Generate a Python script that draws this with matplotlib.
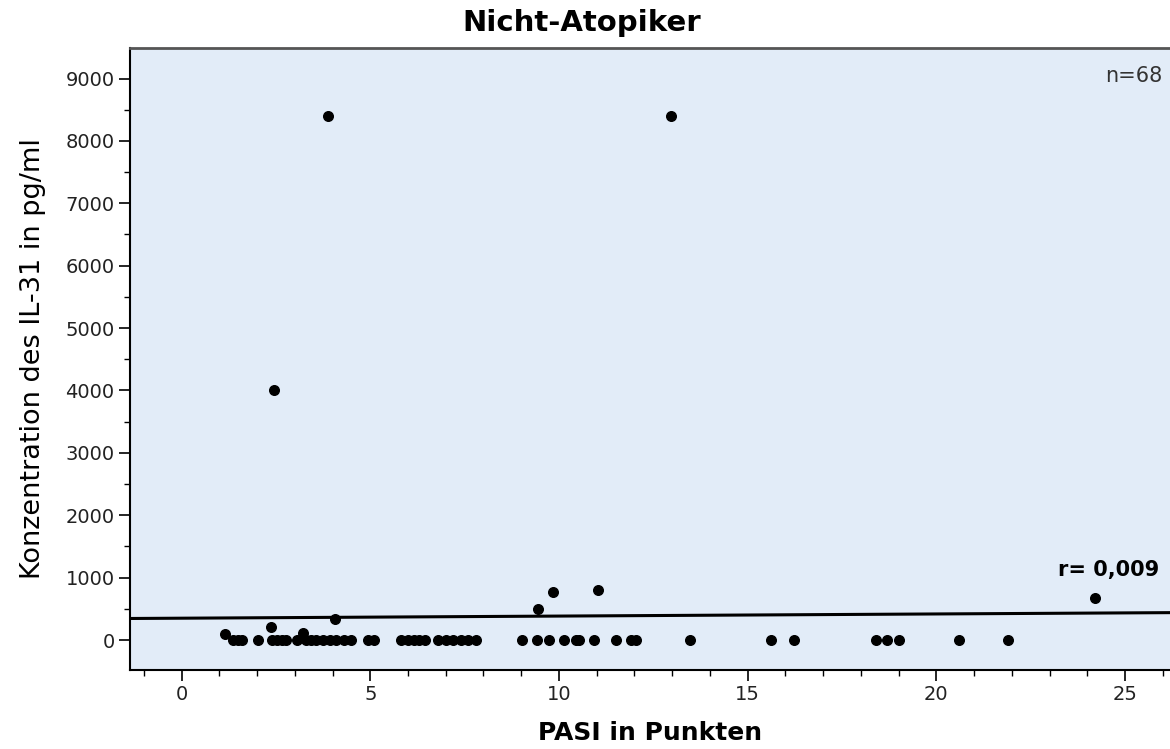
import numpy as np
import matplotlib.pyplot as plt
from matplotlib.ticker import MultipleLocator

# PASI score vs IL-31 concentration
pasi = [1.15, 1.36, 1.49, 1.6, 2.02, 2.36, 2.39, 2.44, 2.52, 2.65, 2.78, 3.05,
        3.21, 3.31, 3.44, 3.57, 3.75, 3.87, 3.92, 4.06, 4.1, 4.3, 4.5, 4.93,
        5.11, 5.82, 5.99, 6.17, 6.3, 6.44, 6.8, 7.0, 7.2, 7.4, 7.6, 7.8,
        9.03, 9.43, 9.45, 9.74, 9.85, 10.14, 10.45, 10.53, 10.93, 11.04, 11.5,
        11.9, 12.03, 12.96, 13.46, 15.63, 16.24, 18.39, 18.7, 19.0, 20.6,
        21.9, 24.2]
il31 = [90, 0, 0, 0, 0, 210, 0, 4000, 0, 0, 0, 0,
        110, 0, 0, 0, 0, 8400, 0, 330, 0, 0, 0, 0,
        0, 0, 0, 0, 0, 0, 0, 0, 0, 0, 0, 0,
        0, 0, 500, 0, 770, 0, 0, 0, 0, 800, 0,
        0, 0, 8400, 0, 0, 0, 0, 0, 0, 0,
        0, 680]

# regression line as drawn in the original
fit_intercept = 350
fit_slope = 3.4
r_text = 'r= 0,009'
n_text = 'n=68'

plt.rcParams['font.family'] = ['DejaVu Sans']

fig = plt.figure(figsize=(11.7, 7.49), dpi=100)
ax = fig.add_axes([0.111, 0.1055, 0.889, 0.8305])
ax.set_facecolor('#e2ecf8')

ax.scatter(pasi, il31, s=48, color='black', zorder=3)

xx = np.array([-2, 27])
ax.plot(xx, fit_intercept + fit_slope * xx, color='black', lw=2.2, zorder=2)

ax.set_xlim(-1.37, 26.19)
ax.set_ylim(-480, 9490)
ax.xaxis.set_major_locator(MultipleLocator(5))
ax.xaxis.set_minor_locator(MultipleLocator(1))
ax.yaxis.set_major_locator(MultipleLocator(1000))
ax.yaxis.set_minor_locator(MultipleLocator(500))
ax.tick_params(which='major', length=8, width=1.2, labelsize=14, colors='black',
               labelcolor='#222222', pad=3)
ax.tick_params(which='minor', length=4, width=1)

ax.spines['right'].set_visible(False)
ax.spines['top'].set_color('#555555')
ax.spines['top'].set_linewidth(2)
ax.spines['left'].set_linewidth(1.5)
ax.spines['bottom'].set_linewidth(1.5)

ax.text(0.993, 0.955, n_text, transform=ax.transAxes, ha='right', va='center',
        fontsize=15, color='#333333')
ax.text(25.9, 1130, r_text, ha='right', va='center', fontsize=15, fontweight='bold')

ax.set_xlabel('PASI in Punkten', fontsize=18, fontweight='bold', labelpad=12)
ax.set_ylabel('Konzentration des IL-31 in pg/ml', fontsize=19.5, labelpad=14)
fig.suptitle('Nicht-Atopiker', x=0.497, y=0.988, fontsize=21, fontweight='bold')

fig.savefig('out.png', dpi=100)
